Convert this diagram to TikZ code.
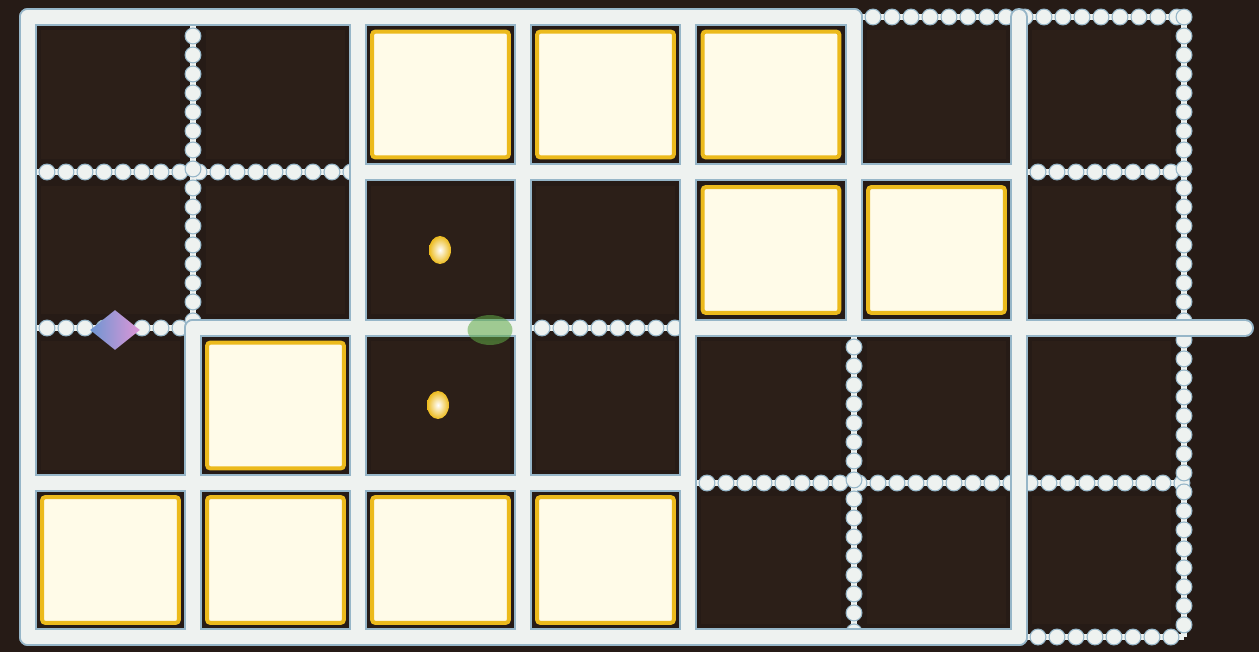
\documentclass[tikz,border=0pt]{standalone}
\usepackage{tikz}
\usetikzlibrary{shapes.geometric}
\definecolor{board}{RGB}{38,27,22}
\definecolor{cellbg}{RGB}{44,31,24}
\definecolor{track}{RGB}{238,242,240}
\definecolor{halo}{RGB}{150,182,200}
\definecolor{cream}{RGB}{255,251,232}
\definecolor{gold}{RGB}{236,186,28}
\definecolor{pinkish}{RGB}{222,150,215}
\definecolor{bluish}{RGB}{110,150,210}
\definecolor{slime}{RGB}{95,170,70}

\begin{document}
\begin{tikzpicture}[x=0.02cm,y=-0.02cm,
  cell/.style={rectangle,minimum width=2.8cm,minimum height=2.58cm,inner sep=0pt,fill=cellbg},
  lit/.style={rectangle,minimum width=2.74cm,minimum height=2.52cm,inner sep=0pt,
    fill=cream,draw=gold,line width=0.08cm,rounded corners=2pt},
  rail/.style={line width=0.28cm,draw=track,line cap=round},
  railhalo/.style={line width=0.36cm,draw=halo,line cap=round},
  beads/.style={line width=0.12cm,draw=track,
    postaction={draw=halo,line width=0.34cm,line cap=round,dash pattern=on 0pt off 0.38cm},
    postaction={draw=track,line width=0.29cm,line cap=round,dash pattern=on 0pt off 0.38cm}},
  pellet/.style={ellipse,minimum width=0.44cm,minimum height=0.56cm,inner sep=0pt,
    inner color=white,outer color=gold}]
  % board
  \fill[board] (0,0) rectangle (1259,652);
  \useasboundingbox (0,0) rectangle (1259,652);
  % grid points
  \foreach \i/\x in {0/28,1/193,2/358,3/523,4/688,5/854,6/1019,7/1184}
    \foreach \j/\y in {0/17,1/172,2/328,3/483,4/637}
      \coordinate (p\i\j) at (\x,\y);
  \coordinate (tail) at (1245,328);
  % boxes
  \foreach \i/\x in {1/110.5,2/275.5,3/440.5,4/605.5,5/771,6/936.5,7/1101.5}
    \foreach \j/\y in {1/94.5,2/250,3/405.5,4/560}
      \node[cell] (c\i\j) at (\x,\y) {};
  \foreach \c in {31,41,51,52,62,23,14,24,34,44}
    \node[lit] (l\c) at (c\c) {};
  % painted track
  \foreach \a/\b in {p50/p70,p01/p21,p61/p71,p02/p12,p32/p42,p43/p73,p64/p74,
                     p10/p12,p52/p54,p70/p74}
    \draw[beads] (\a) -- (\b);
  % plain track
  \foreach \a/\b in {p00/p50,p21/p61,p12/p32,p42/tail,p03/p43,p04/p64,
                     p00/p04,p12/p14,p20/p24,p30/p34,p40/p44,p50/p52,p60/p64}
    \draw[railhalo] (\a) -- (\b);
  \foreach \a/\b in {p00/p50,p21/p61,p12/p32,p42/tail,p03/p43,p04/p64,
                     p00/p04,p12/p14,p20/p24,p30/p34,p40/p44,p50/p52,p60/p64}
    \draw[rail] (\a) -- (\b);
  % dots
  \node[pellet] (dot1) at (440,250) {};
  \node[pellet] (dot2) at (438,405) {};
  % sprites
  \node[diamond,minimum width=1.0cm,minimum height=0.8cm,inner sep=0pt,
    left color=bluish,right color=pinkish] (runner) at (115,330) {};
  \node[ellipse,minimum width=0.9cm,minimum height=0.6cm,inner sep=0pt,
    fill=slime,opacity=0.55] (chaser) at (490,330) {};
\end{tikzpicture}
\end{document}
